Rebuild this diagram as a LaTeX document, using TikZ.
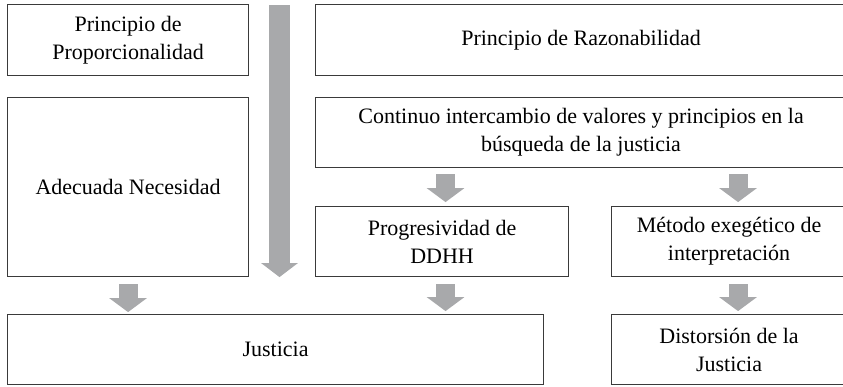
\documentclass[tikz,border=0pt]{standalone}
\usepackage{fontspec}
\setmainfont{Liberation Serif}
\usetikzlibrary{arrows.meta}
\definecolor{boxline}{HTML}{3A3A3A}
\definecolor{arrowgray}{HTML}{A8A9AB}
\begin{document}
\begin{tikzpicture}[x=1pt,y=-1pt,
  box/.style={draw=boxline, line width=1.1pt, inner sep=0pt, align=center,
    anchor=north west, font=\fontsize{22}{28}\selectfont},
  blockarr/.style={draw=arrowgray, line width=19pt,
    -{Triangle[width=37pt,length=14pt]}},
  bigarr/.style={draw=arrowgray, line width=21pt,
    -{Triangle[width=36pt,length=14pt]}}]
\useasboundingbox (0,0) rectangle (843,386);
\clip (0,0) rectangle (843,386);
\node[box, minimum width=241pt, minimum height=71pt] (A) at (7,4)
  {Principio de\\Proporcionalidad};
\node[box, minimum width=531pt, minimum height=71pt] (B) at (315,4)
  {Principio de Razonabilidad};
\node[box, minimum width=241pt, minimum height=179pt] (C) at (7,97)
  {Adecuada Necesidad};
\node[box, minimum width=531pt, minimum height=70pt] (D) at (315,97)
  {Continuo intercambio de valores y principios en la\\b\'usqueda de la justicia};
\node[box, minimum width=253pt, minimum height=70pt] (E) at (315,206)
  {Progresividad de\\DDHH};
\node[box, minimum width=235pt, minimum height=70pt] (F) at (611,206)
  {M\'etodo exeg\'etico de\\interpretaci\'on};
\node[box, minimum width=536pt, minimum height=70pt] (J) at (7,314)
  {Justicia};
\node[box, minimum width=235pt, minimum height=70pt] (G) at (611,314)
  {Distorsi\'on de la\\Justicia};
% big vertical arrow
\coordinate (top) at (279.5,5);
\draw[bigarr] (top) -- (top |- E.south);
% small arrows
\draw[blockarr] ([xshift=3.5pt]D.south -| E.south) ++(0,6) -- ++(0,28);
\draw[blockarr] ([xshift=9pt]D.south -| F.south) ++(0,6) -- ++(0,28);
\draw[blockarr] (C.south) ++(0,7) -- ++(0,28);
\draw[blockarr] ([xshift=3.5pt]E.south) ++(0,7) -- ++(0,27);
\draw[blockarr] ([xshift=9pt]F.south) ++(0,7) -- ++(0,27);
\end{tikzpicture}
\end{document}
